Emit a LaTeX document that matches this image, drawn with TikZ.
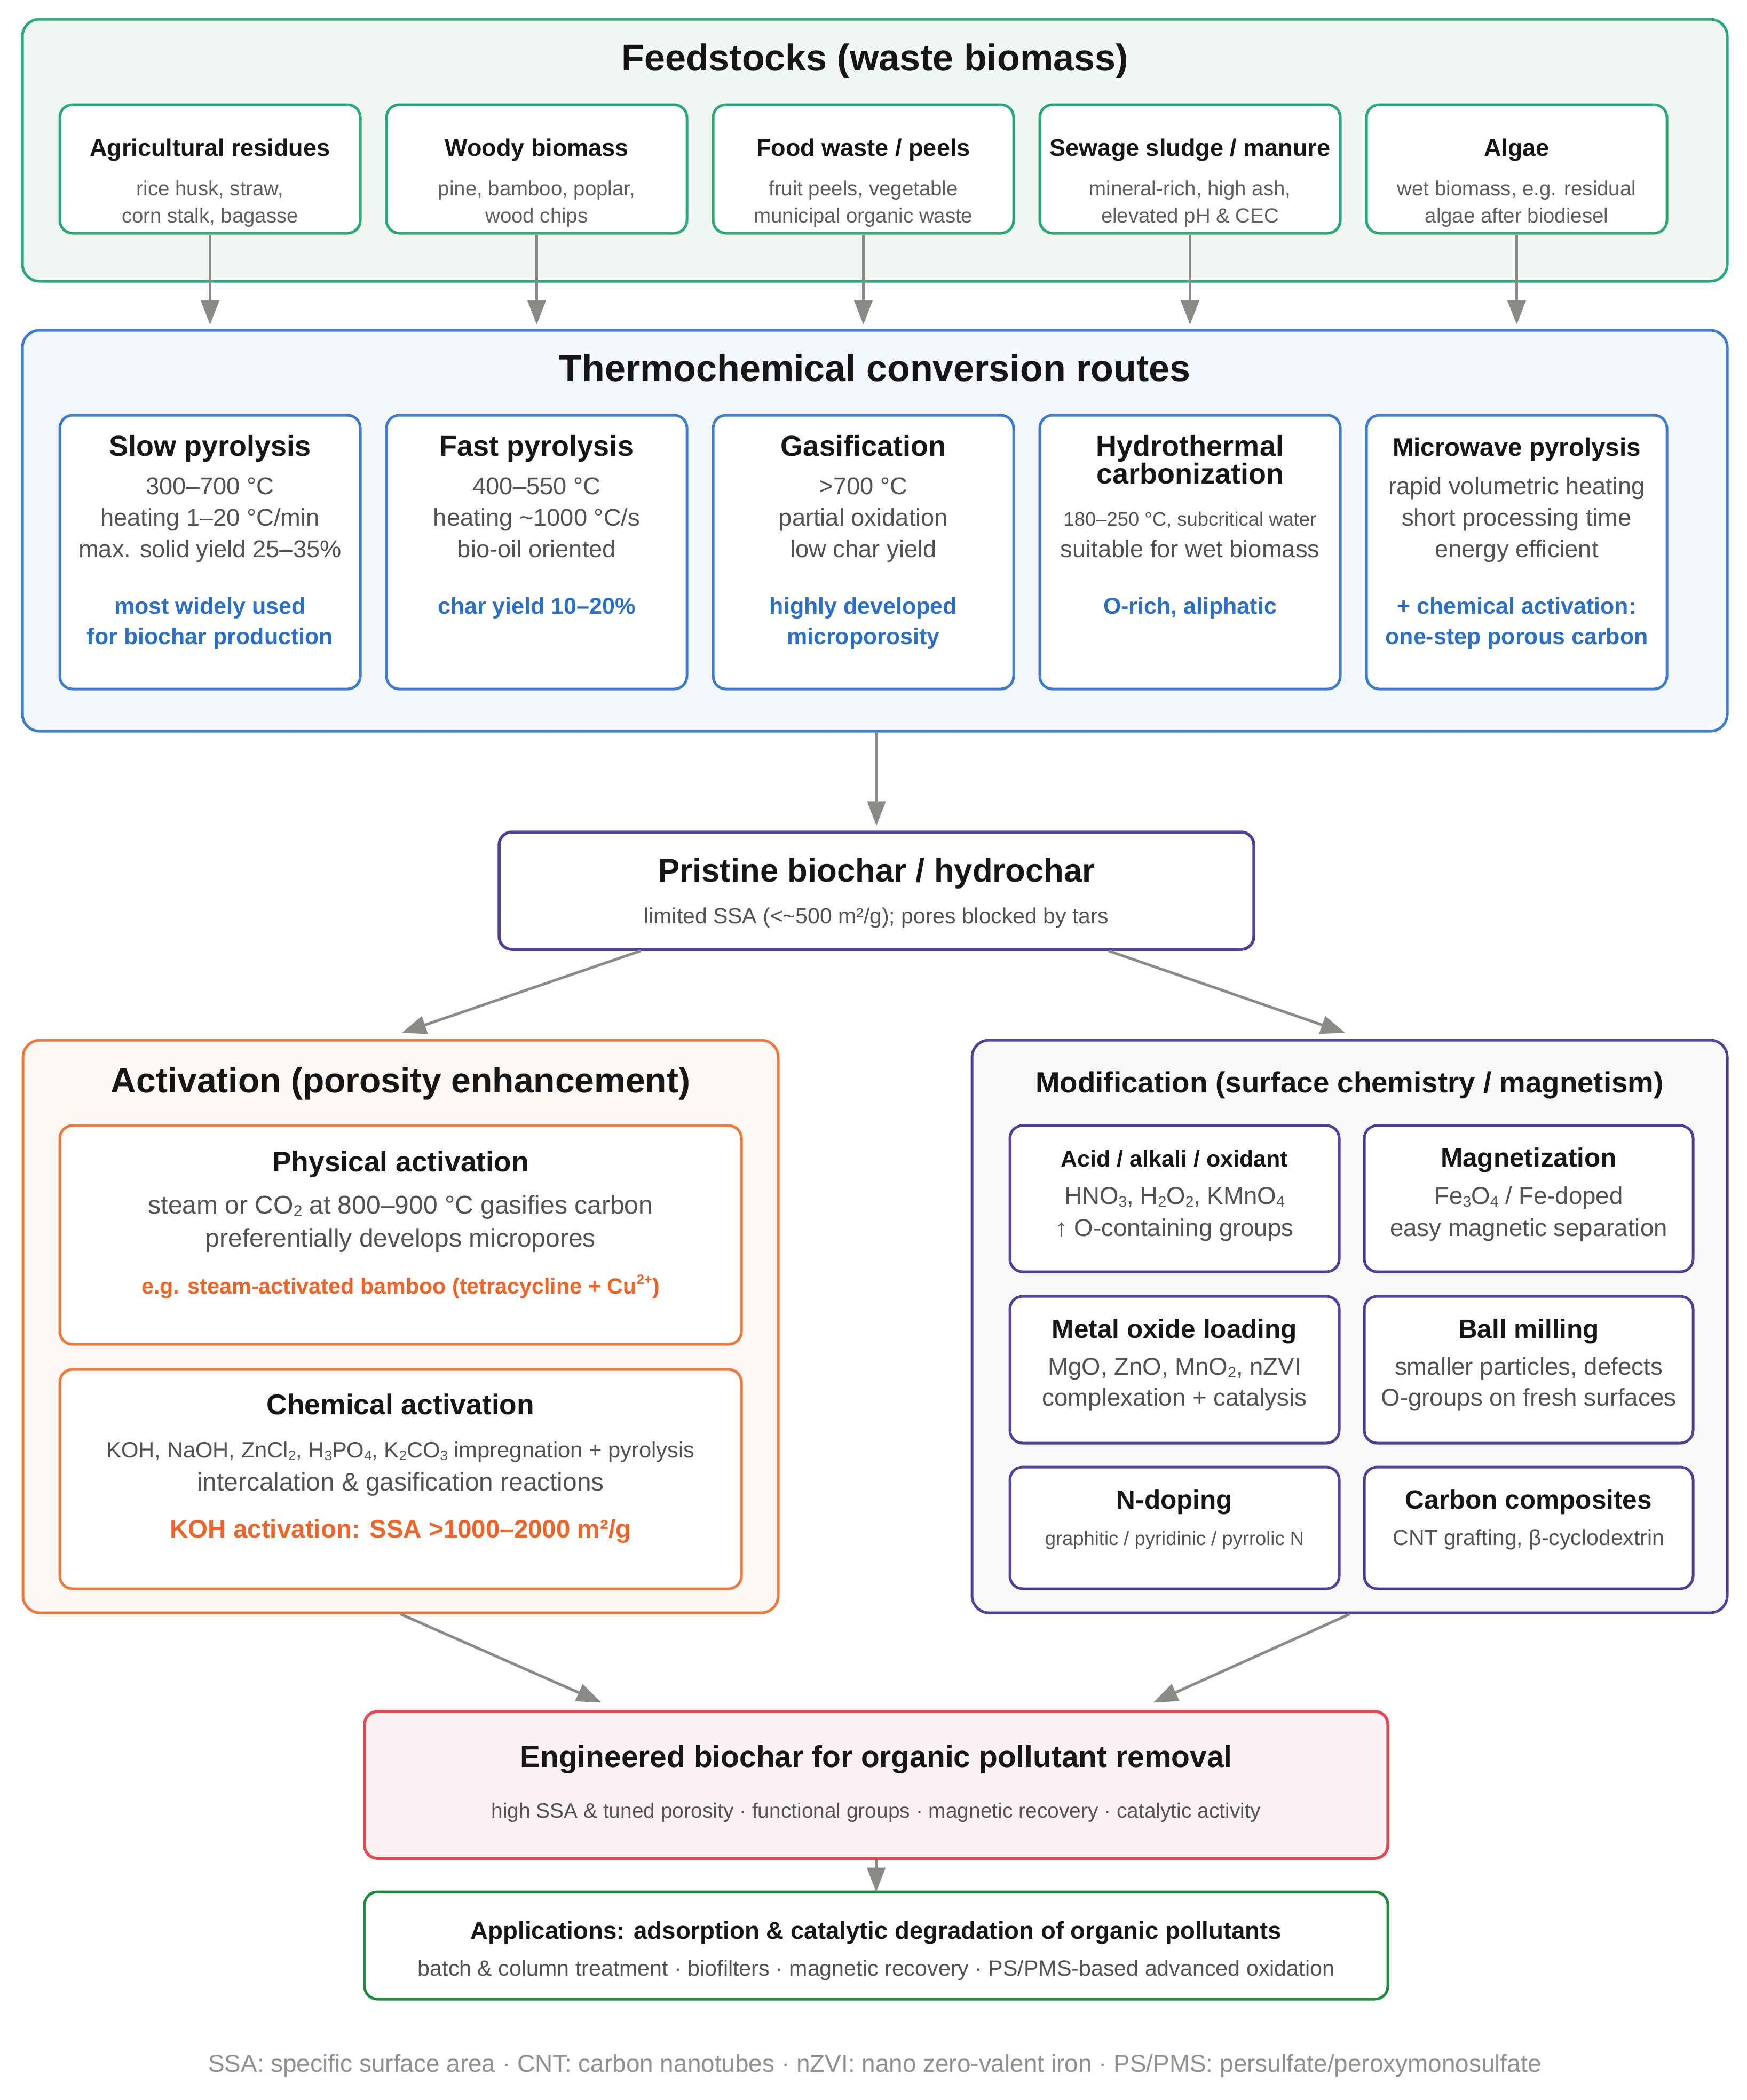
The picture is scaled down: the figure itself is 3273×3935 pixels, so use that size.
\documentclass[tikz,border=0pt]{standalone}
\usepackage{fontspec}
\usepackage{graphicx}
\setmainfont{Liberation Sans}
\usetikzlibrary{arrows.meta}
\definecolor{fgreen}{RGB}{40,170,120}
\definecolor{ffill}{RGB}{243,247,244}
\definecolor{tblue}{RGB}{62,125,205}
\definecolor{tfill}{RGB}{244,247,251}
\definecolor{bluetxt}{RGB}{43,112,200}
\definecolor{ppl}{RGB}{78,64,156}
\definecolor{orng}{RGB}{240,120,60}
\definecolor{orngtxt}{RGB}{240,100,40}
\definecolor{afill}{RGB}{253,248,244}
\definecolor{mfill}{RGB}{248,247,250}
\definecolor{redb}{RGB}{228,72,78}
\definecolor{rfill}{RGB}{252,242,243}
\definecolor{agreen}{RGB}{30,140,60}
\definecolor{arrgray}{RGB}{138,138,134}
\definecolor{titlec}{RGB}{22,22,22}
\definecolor{bodyc}{RGB}{82,82,82}
\definecolor{descc}{RGB}{95,95,95}
\definecolor{footc}{RGB}{145,145,140}
\newcommand{\sbs}[1]{\raisebox{-0.12em}{\scalebox{0.62}{#1}}}
\newcommand{\sps}[1]{\raisebox{0.42em}{\scalebox{0.62}{#1}}}
\newcommand{\mkbox}[6]{%
  \pgfmathsetmacro\mkbw{#5-#3}\pgfmathsetmacro\mkbh{#6-#4}%
  \node[#1, minimum width=\mkbw pt, minimum height=\mkbh pt, inner sep=0pt] (#2) at ({(#3+#5)/2},{(#4+#6)/2}) {};}
\begin{document}
\begin{tikzpicture}[x=1pt,y=-1pt,
  outerb/.style={line width=5pt, rounded corners=32pt},
  innerb/.style={line width=5pt, rounded corners=24pt, fill=white},
  feedouter/.style={outerb, draw=fgreen, fill=ffill},
  feedin/.style={innerb, draw=fgreen},
  thouter/.style={outerb, draw=tblue, fill=tfill},
  thin/.style={innerb, draw=tblue},
  pristbox/.style={innerb, draw=ppl, line width=5.5pt},
  actouter/.style={outerb, draw=orng, fill=afill},
  actin/.style={innerb, draw=orng},
  modouter/.style={outerb, draw=ppl, fill=mfill},
  modin/.style={innerb, draw=ppl},
  engbox/.style={innerb, draw=redb, fill=rfill, line width=5.5pt},
  appbox/.style={innerb, draw=agreen},
  txt/.style={anchor=base, inner sep=0pt},
  bigtitle/.style={txt, text=titlec, font=\bfseries\fontsize{70}{84}\selectfont},
  ftitle/.style={txt, text=titlec, font=\bfseries\fontsize{45}{54}\selectfont},
  fdesc/.style={txt, text=descc, font=\fontsize{38.4}{46}\selectfont},
  rtitle/.style={txt, text=titlec, font=\bfseries\fontsize{54}{60}\selectfont},
  rbody/.style={txt, text=bodyc, font=\fontsize{45.3}{54}\selectfont},
  rblue/.style={txt, text=bluetxt, font=\bfseries\fontsize{43}{52}\selectfont},
  arr/.style={draw=arrgray, line width=5pt, -{Triangle[length=46pt,width=34pt]}, fill=arrgray}
]
\fill[white] (0,0) rectangle (3273,3935);
\useasboundingbox (0,0) rectangle (3273,3935);

% ---------- Feedstocks ----------
\mkbox{feedouter}{feed}{42}{36}{3236}{527}
\node[bigtitle] (feedT) at (1639,132) {Feedstocks (waste biomass)};
\mkbox{feedin}{f1}{112}{196}{675}{437}
\mkbox{feedin}{f2}{724}{196}{1287}{437}
\mkbox{feedin}{f3}{1336}{196}{1899}{437}
\mkbox{feedin}{f4}{1948}{196}{2511}{437}
\mkbox{feedin}{f5}{2560}{196}{3123}{437}
\node[ftitle] (f1t) at (393.5,292) {Agricultural residues};
\node[fdesc] (f1a) at (393.5,366) {rice husk, straw,};
\node[fdesc] (f1b) at (393.5,417) {corn stalk, bagasse};
\node[ftitle] (f2t) at (1005.5,292) {Woody biomass};
\node[fdesc] (f2a) at (1005.5,366) {pine, bamboo, poplar,};
\node[fdesc] (f2b) at (1005.5,417) {wood chips};
\node[ftitle] (f3t) at (1617.5,292) {Food waste / peels};
\node[fdesc] (f3a) at (1617.5,366) {fruit peels, vegetable};
\node[fdesc] (f3b) at (1617.5,417) {municipal organic waste};
\node[ftitle] (f4t) at (2229.5,292) {Sewage sludge / manure};
\node[fdesc] (f4a) at (2229.5,366) {mineral-rich, high ash,};
\node[fdesc] (f4b) at (2229.5,417) {elevated pH \& CEC};
\node[ftitle] (f5t) at (2841.5,292) {Algae};
\node[fdesc] (f5a) at (2841.5,366) {wet biomass, e.g. residual};
\node[fdesc] (f5b) at (2841.5,417) {algae after biodiesel};

% ---------- Thermochemical ----------
\mkbox{thouter}{thermo}{42}{619}{3236}{1370}
\node[bigtitle] (thT) at (1639,714) {Thermochemical conversion routes};
\mkbox{thin}{r1}{112}{778}{675}{1291}
\mkbox{thin}{r2}{724}{778}{1287}{1291}
\mkbox{thin}{r3}{1336}{778}{1899}{1291}
\mkbox{thin}{r4}{1948}{778}{2511}{1291}
\mkbox{thin}{r5}{2560}{778}{3123}{1291}
\node[rtitle] (r1t) at (393.5,854) {Slow pyrolysis};
\node[rbody] (r1a) at (393.5,926) {300–700 °C};
\node[rbody] (r1b) at (393.5,985) {heating 1–20 °C/min};
\node[rbody] (r1c) at (393.5,1044) {max. solid yield 25–35\%};
\node[rblue] (r1d) at (393.5,1150) {most widely used};
\node[rblue] (r1e) at (393.5,1207) {for biochar production};
\node[rtitle] (r2t) at (1005.5,854) {Fast pyrolysis};
\node[rbody] (r2a) at (1005.5,926) {400–550 °C};
\node[rbody] (r2b) at (1005.5,985) {heating \textasciitilde1000 °C/s};
\node[rbody] (r2c) at (1005.5,1044) {bio-oil oriented};
\node[rblue] (r2d) at (1005.5,1150) {char yield 10–20\%};
\node[rtitle] (r3t) at (1617.5,854) {Gasification};
\node[rbody] (r3a) at (1617.5,926) {>700 °C};
\node[rbody] (r3b) at (1617.5,985) {partial oxidation};
\node[rbody] (r3c) at (1617.5,1044) {low char yield};
\node[rblue] (r3d) at (1617.5,1150) {highly developed};
\node[rblue] (r3e) at (1617.5,1207) {microporosity};
\node[rtitle] (r4t) at (2229.5,854) {Hydrothermal};
\node[rtitle] (r4u) at (2229.5,906) {carbonization};
\node[rbody, font=\fontsize{36.4}{44}\selectfont] (r4a) at (2229.5,985) {180–250 °C, subcritical water};
\node[rbody] (r4b) at (2229.5,1044) {suitable for wet biomass};
\node[rblue] (r4d) at (2229.5,1150) {O-rich, aliphatic};
\node[rtitle, font=\bfseries\fontsize{47.5}{56}\selectfont] (r5t) at (2841.5,854) {Microwave pyrolysis};
\node[rbody] (r5a) at (2841.5,926) {rapid volumetric heating};
\node[rbody] (r5b) at (2841.5,985) {short processing time};
\node[rbody] (r5c) at (2841.5,1044) {energy efficient};
\node[rblue] (r5d) at (2841.5,1150) {+ chemical activation:};
\node[rblue] (r5e) at (2841.5,1207) {one-step porous carbon};

% ---------- Pristine ----------
\mkbox{pristbox}{prist}{935}{1559}{2349}{1779}
\node[txt, text=titlec, font=\bfseries\fontsize{61.7}{70}\selectfont] (pT) at (1642,1652) {Pristine biochar / hydrochar};
\node[txt, text=bodyc, font=\fontsize{40.9}{48}\selectfont] (pS) at (1642,1730) {limited SSA (<\textasciitilde500 m²/g); pores blocked by tars};

% ---------- Activation ----------
\mkbox{actouter}{act}{43}{1949}{1458}{3022}
\node[bigtitle, font=\bfseries\fontsize{66}{78}\selectfont] (actT) at (750.5,2047) {Activation (porosity enhancement)};
\mkbox{actin}{phys}{112}{2109}{1389}{2519}
\mkbox{actin}{chem}{112}{2566}{1389}{2977}
\node[rtitle, font=\bfseries\fontsize{53.4}{60}\selectfont] (physT) at (750.5,2195) {Physical activation};
\node[rbody, font=\fontsize{48}{56}\selectfont] (physA) at (750.5,2274) {steam or CO\sbs{2} at 800–900 °C gasifies carbon};
\node[rbody, font=\fontsize{48}{56}\selectfont] (physB) at (750.5,2336) {preferentially develops micropores};
\node[txt, text=orngtxt, font=\bfseries\fontsize{41.3}{50}\selectfont] (physC) at (750.5,2424) {e.g. steam-activated bamboo (tetracycline + Cu\sps{2+})};
\node[rtitle, font=\bfseries\fontsize{53.4}{60}\selectfont] (chemT) at (750.5,2650) {Chemical activation};
\node[rbody, font=\fontsize{41.7}{50}\selectfont] (chemA) at (750.5,2731) {KOH, NaOH, ZnCl\sbs{2}, H\sbs{3}PO\sbs{4}, K\sbs{2}CO\sbs{3} impregnation + pyrolysis};
\node[rbody, font=\fontsize{47.8}{56}\selectfont] (chemB) at (750.5,2793) {intercalation \& gasification reactions};
\node[txt, text=orngtxt, font=\bfseries\fontsize{47.5}{56}\selectfont] (chemC) at (750.5,2881) {KOH activation: SSA >1000–2000 m²/g};

% ---------- Modification ----------
\mkbox{modouter}{mod}{1821}{1949}{3236}{3022}
\node[bigtitle, font=\bfseries\fontsize{54.7}{64}\selectfont] (modT) at (2528.5,2047) {Modification (surface chemistry / magnetism)};
\mkbox{modin}{m1}{1892}{2109}{2509}{2383}
\mkbox{modin}{m2}{2556}{2109}{3172}{2383}
\mkbox{modin}{m3}{1892}{2429}{2509}{2704}
\mkbox{modin}{m4}{2556}{2429}{3172}{2704}
\mkbox{modin}{m5}{1892}{2749}{2509}{2977}
\mkbox{modin}{m6}{2556}{2749}{3172}{2977}
\tikzset{mtitle/.style={txt, text=titlec, font=\bfseries\fontsize{49.5}{58}\selectfont},
         mbody/.style={txt, text=bodyc, font=\fontsize{45.6}{54}\selectfont}}
\node[mtitle, font=\bfseries\fontsize{43}{52}\selectfont] (m1t) at (2200.5,2186) {Acid / alkali / oxidant};
\node[mbody] (m1a) at (2200.5,2256) {HNO\sbs{3}, H\sbs{2}O\sbs{2}, KMnO\sbs{4}};
\node[mbody] (m1b) at (2200.5,2316) {↑ O-containing groups};
\node[mtitle] (m2t) at (2864,2186) {Magnetization};
\node[mbody] (m2a) at (2864,2256) {Fe\sbs{3}O\sbs{4} / Fe-doped};
\node[mbody] (m2b) at (2864,2316) {easy magnetic separation};
\node[mtitle] (m3t) at (2200.5,2507) {Metal oxide loading};
\node[mbody] (m3a) at (2200.5,2576) {MgO, ZnO, MnO\sbs{2}, nZVI};
\node[mbody] (m3b) at (2200.5,2634) {complexation + catalysis};
\node[mtitle] (m4t) at (2864,2507) {Ball milling};
\node[mbody] (m4a) at (2864,2576) {smaller particles, defects};
\node[mbody] (m4b) at (2864,2634) {O-groups on fresh surfaces};
\node[mtitle] (m5t) at (2200.5,2827) {N-doping};
\node[mbody, font=\fontsize{36.4}{44}\selectfont] (m5a) at (2200.5,2895) {graphitic / pyridinic / pyrrolic N};
\node[mtitle] (m6t) at (2864,2827) {Carbon composites};
\node[mbody, font=\fontsize{41}{50}\selectfont] (m6a) at (2864,2895) {CNT grafting, β-cyclodextrin};

% ---------- Engineered ----------
\mkbox{engbox}{eng}{683}{3207}{2600}{3482}
\node[txt, text=titlec, font=\bfseries\fontsize{56.9}{66}\selectfont] (engT) at (1641.5,3311) {Engineered biochar for organic pollutant removal};
\node[txt, text=bodyc, font=\fontsize{38.9}{46}\selectfont] (engS) at (1641.5,3406) {high SSA \& tuned porosity · functional groups · magnetic recovery · catalytic activity};

% ---------- Applications ----------
\mkbox{appbox}{apps}{683}{3545}{2600}{3746}
\node[txt, text=titlec, font=\bfseries\fontsize{45.6}{54}\selectfont] (appT) at (1641.5,3633) {Applications: adsorption \& catalytic degradation of organic pollutants};
\node[txt, text=bodyc, font=\fontsize{41.2}{50}\selectfont] (appS) at (1641.5,3702) {batch \& column treatment · biofilters · magnetic recovery · PS/PMS-based advanced oxidation};

% ---------- Footnote ----------
\node[txt, text=footc, font=\fontsize{45.9}{54}\selectfont] (foot) at (1639,3882) {SSA: specific surface area · CNT: carbon nanotubes · nZVI: nano zero-valent iron · PS/PMS: persulfate/peroxymonosulfate};

% ---------- Connectors ----------
\coordinate (thtop) at ([yshift=8pt]thermo.north);
\foreach \b in {f1,f2,f3,f4,f5}{
  \draw[arr] (\b.south) -- (\b.south |- thtop);
}
\draw[arr] (thermo.south -| prist.north) -- ([yshift=9pt]prist.north);
\draw[arr] ([xshift=-442pt]prist.south) -- ([xshift=2pt,yshift=11pt]act.north);
\draw[arr] ([xshift=435pt]prist.south) -- ([xshift=-8pt,yshift=11pt]mod.north);
\draw[arr] (act.south) -- ([xshift=-515pt,yshift=14pt]eng.north);
\draw[arr] (mod.south) -- ([xshift=519pt,yshift=14pt]eng.north);
\draw[arr] (eng.south) -- ([yshift=-3pt]apps.north);
\end{tikzpicture}
\end{document}
